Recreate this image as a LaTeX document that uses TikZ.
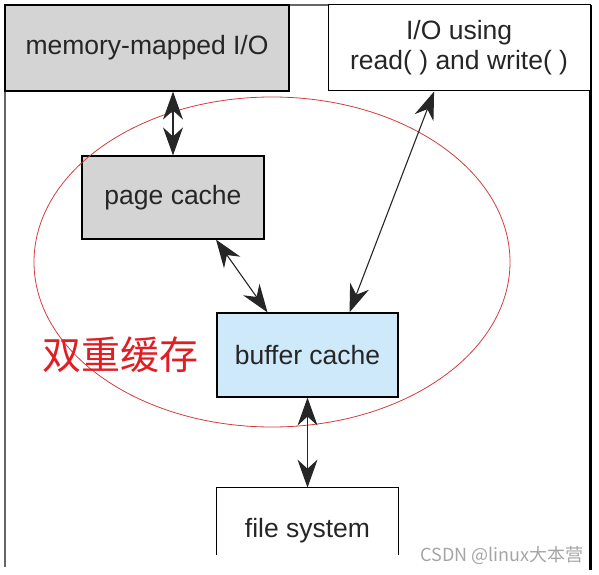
\documentclass[tikz,border=0pt]{standalone}
\usepackage{fontspec}
\setmainfont{Liberation Sans}
\newfontfamily\cjk{Noto Sans CJK SC}
\usepackage{xcolor}
\usetikzlibrary{arrows.meta,positioning,shapes.geometric}

\definecolor{boxgray}{RGB}{212,212,212}
\definecolor{bufblue}{RGB}{205,233,250}
\definecolor{ringred}{RGB}{210,60,60}
\definecolor{markred}{RGB}{225,30,35}
\definecolor{markgray}{RGB}{165,165,165}

\begin{document}
\begin{tikzpicture}[
				x = 1pt, y = 1pt,
				line width = 1.1pt % line style
			]
			
			\tikzstyle{layer}=[
			draw = black,
			line width = 1.2pt,
			align = center,
			inner sep = 0pt,
			text = black!85,
			font = \fontsize{26.5}{30}\selectfont
			]
			
			\tikzstyle{link}=[
			draw = black!85,
			arrows = {Stealth[length=28pt,width=20pt]-Stealth[length=28pt,width=20pt]}
			]
			
			\useasboundingbox (0,0) rectangle (599,574);
			
			% outer frame
			\draw[black!60, line width = 1.4pt] (5,7) -- (5,569) -- (590,569);
			\draw[black, line width = 3pt] (590,569) -- (590,4);
			
			\node[layer, fill = boxgray, minimum width = 284pt, minimum height = 86pt] (mmap) at (147,526) {memory-mapped I/O};
			\node[layer, fill = white, right = 38pt of mmap, minimum width = 262pt, minimum height = 86pt, line width = 1pt] (rw) {I/O using\\read( ) and write( )};
			
			\node[layer, fill = boxgray, minimum width = 182pt, minimum height = 83pt] (page) at (173,376.5) {page cache};
			\node[layer, fill = bufblue, minimum width = 181pt, minimum height = 84pt] (buf) at (307.5,219) {buffer cache};
			\node[layer, draw = none, below = 90pt of buf, minimum width = 181pt, minimum height = 84pt] (fs) {file system};
			\draw[line width = 1.2pt] ([yshift=18pt]fs.south west) |- (fs.north) -| ([yshift=18pt]fs.south east);
			
			% double caching ring
			\draw[ringred, line width = 0.8pt] (272,312) ellipse [x radius = 238pt, y radius = 165pt];
			\node[text = markred, font = \cjk\fontsize{39}{39}\selectfont, left = 14pt of buf] (dual) {双重缓存};
			
			\draw[link] (page.north) -- (page.north |- mmap.south);
			\draw[link] ([xshift=43pt]page.south) -- ([xshift=-40pt]buf.north);
			\draw[link] ([xshift=-25pt]rw.south) -- ([xshift=42pt]buf.north);
			\draw[link] (buf.south) -- (fs.north);
			
			\node[text = markgray, font = \cjk\fontsize{18}{18}\selectfont, anchor = east, inner sep = 0pt] (mark) at (584,19) {CSDN @linux大本营};
		\end{tikzpicture}
\end{document}
